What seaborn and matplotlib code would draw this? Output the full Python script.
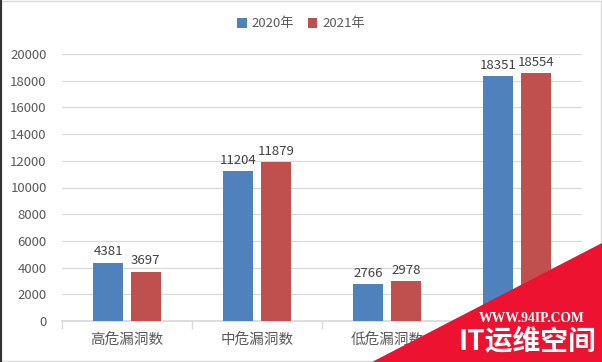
import matplotlib
matplotlib.use("Agg")
import matplotlib.pyplot as plt
from matplotlib.patches import Polygon, Rectangle
from matplotlib.lines import Line2D
import seaborn as sns
import pandas as pd

categories = ["高危漏洞数", "中危漏洞数", "低危漏洞数", "漏洞总数"]
years = ["2020年", "2021年"]
values_2020 = [4381, 11204, 2766, 18351]
values_2021 = [3697, 11879, 2978, 18554]
y_ticks = [0, 2000, 4000, 6000, 8000, 10000, 12000, 14000, 16000, 18000, 20000]

sns.set_theme(style="white")
plt.rcParams["font.family"] = ["Noto Sans CJK SC", "DejaVu Sans"]

df = pd.DataFrame({
    "category": categories * 2,
    "year": [years[0]] * len(categories) + [years[1]] * len(categories),
    "value": values_2020 + values_2021,
})

fig = plt.figure(figsize=(6.02, 3.62), dpi=100)
ax = fig.add_axes([62 / 602, 1 - 321 / 362, 520 / 602, (321 - 54) / 362])

sns.barplot(data=df, x="category", y="value", hue="year",
            palette=["#4F81BD", "#C0504D"], width=0.58, gap=0.22,
            saturation=1, linewidth=0, ax=ax, zorder=3)

for c in ax.containers:
    ax.bar_label(c, padding=3, fontsize=9.5, color="#404040")

ax.set_ylim(0, 20000)
ax.set_xlim(-0.5, len(categories) - 0.5)
ax.set_yticks(y_ticks)
ax.set_yticklabels([str(v) for v in y_ticks], fontsize=9.5, color="#595959")
ax.tick_params(axis="y", length=0, pad=11)
ax.tick_params(axis="x", which="major", length=0, pad=8, labelsize=10.5, labelcolor="#595959")
ax.set_xticks(range(len(categories)))
ax.set_xticklabels(categories)
ax.set_xticks([i - 0.5 for i in range(len(categories) + 1)], minor=True)
ax.tick_params(axis="x", which="minor", length=6, color="#D9D9D9", width=1, bottom=True)
ax.yaxis.grid(True, color="#D9D9D9", linewidth=0.9, zorder=0)
ax.set_axisbelow(True)
for s in ["top", "right", "left"]:
    ax.spines[s].set_visible(False)
ax.spines["bottom"].set_color("#D9D9D9")
ax.set_xlabel("")
ax.set_ylabel("")
# last category label is fully covered by the watermark in the reference
ax.get_xticklabels()[-1].set_visible(False)

leg = ax.legend(loc="center", bbox_to_anchor=(0.5, 1 - 24 / 362), bbox_transform=fig.transFigure,
                ncol=2, frameon=False, fontsize=9.5, handlelength=0.75, handleheight=0.75,
                handletextpad=0.4, columnspacing=1.0)
for t in leg.get_texts():
    t.set_color("#595959")

# frame
fig.patches.append(Rectangle((0.001, 0.002), 0.997, 0.995, transform=fig.transFigure,
                             fill=False, edgecolor="#D9D9D9", linewidth=1))
fig.lines.append(Line2D([0.001, 0.001], [0, 1], transform=fig.transFigure, color="#333333", linewidth=1.5))

# watermark
fig.patches.append(Polygon([(372 / 602, 0), (1, 0), (1, 1 - 243 / 362)], closed=True,
                           transform=fig.transFigure, facecolor="#EE1231", edgecolor="none", zorder=10))
fig.text(532 / 602, 1 - 318 / 362, "WWW.94IP.COM", color="white", fontsize=9.8, fontweight="bold",
         family=["Liberation Serif", "DejaVu Serif"], ha="center", va="center", zorder=11)
fig.text(527 / 602, 1 - 341 / 362, "IT运维空间", color="white", fontsize=20, fontweight="bold",
         ha="center", va="center", zorder=11)

fig.savefig("out.png", dpi=100)
